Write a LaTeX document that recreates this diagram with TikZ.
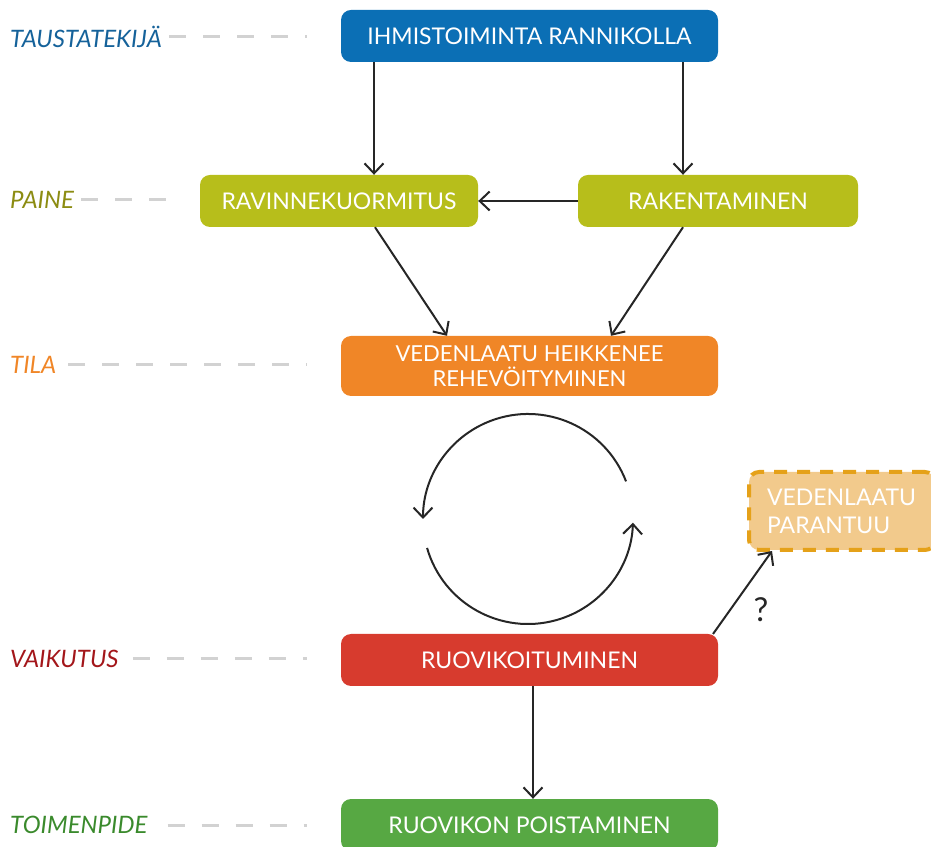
\documentclass[tikz,border=0pt]{standalone}
\usepackage{fontspec}
\setmainfont{Lato}
\usetikzlibrary{arrows.meta}
\definecolor{cblue}{HTML}{0B6FB5}
\definecolor{colive}{HTML}{B7BE1B}
\definecolor{corange}{HTML}{F08627}
\definecolor{cred}{HTML}{D73B2E}
\definecolor{cgreen}{HTML}{57A843}
\definecolor{cpalefill}{HTML}{F2CA8C}
\definecolor{cpaleline}{HTML}{E5A119}
\definecolor{lblue}{HTML}{15629A}
\definecolor{lolive}{HTML}{8C8C12}
\definecolor{lorange}{HTML}{F08627}
\definecolor{lred}{HTML}{A3161A}
\definecolor{lgreen}{HTML}{3A8A2C}
\definecolor{dashgray}{HTML}{D2D2D2}
\tikzset{
  box/.style={rounded corners=10pt, minimum height=52pt, text=white, inner sep=0pt,
    font=\fontsize{23}{27}\selectfont, align=center},
  lvl/.style={anchor=west, inner sep=0pt, font=\fontsize{24}{28}\selectfont\itshape},
  guide/.style={draw=dashgray, line width=3pt, dash pattern=on 17pt off 17pt},
  arr/.style={draw=black!85, line width=2pt, -{Straight Barb[length=10pt,width=19pt,line width=2pt]}},
}
\begin{document}
\begin{tikzpicture}[x=1pt,y=1pt]
\useasboundingbox (0,0) rectangle (931,846);
\begin{scope}
\clip (0,0) rectangle (931,846);
% boxes
\node[box, fill=cblue, minimum width=377pt] (ihm) at (529.5,810) {IHMISTOIMINTA RANNIKOLLA};
\node[box, fill=colive, minimum width=278pt] (rav) at (339,645) {RAVINNEKUORMITUS};
\node[box, fill=colive, minimum width=280pt] (rak) at (718,645) {RAKENTAMINEN};
\node[box, fill=corange, minimum width=377pt, minimum height=60pt, font=\fontsize{22}{25}\selectfont] (ved) at (529.5,480) {VEDENLAATU HEIKKENEE\\REHEVÖITYMINEN};
\node[box, fill=cred, minimum width=377pt] (ruo) at (529.5,186) {RUOVIKOITUMINEN};
\node[box, fill=cgreen, minimum width=377pt] (poi) at (529.5,21) {RUOVIKON POISTAMINEN};
\node[box, fill=cpalefill, draw=cpaleline, line width=4pt, dash pattern=on 13pt off 10pt,
  minimum width=186pt, minimum height=78pt, align=left, text width=150pt, inner xsep=18pt,
  font=\fontsize{23}{28}\selectfont] (par) at (842,335) {VEDENLAATU\\PARANTUU};
% level labels
\node[lvl, text=lblue] (l1) at (10,809) {TAUSTATEKIJÄ};
\node[lvl, text=lolive] (l2) at (10,646) {PAINE};
\node[lvl, text=lorange] (l3) at (10,481) {TILA};
\node[lvl, text=lred] (l4) at (10,187) {VAIKUTUS};
\node[lvl, text=lgreen] (l5) at (10,21) {TOIMENPIDE};
\coordinate (g1) at (307,809);
\coordinate (g2) at (180,646);
\coordinate (g3) at (307,481);
\coordinate (g4) at (307,187);
\coordinate (g5) at (307,21);
\draw[guide] ([xshift=7pt]l1.east) -- (g1);
\draw[guide] ([xshift=7pt]l2.east) -- (g2);
\draw[guide] ([xshift=12pt]l3.east) -- (g3);
\draw[guide] ([xshift=14pt]l4.east) -- (g4);
\draw[guide] ([xshift=20pt]l5.east) -- (g5);
% arrows
\draw[arr] (ihm.south -| 374,0) -- (rav.north -| 374,0);
\draw[arr] (ihm.south -| 683,0) -- (rak.north -| 683,0);
\draw[arr] (rak.west) -- (rav.east);
\draw[arr] (rav.south -| 375,0) -- (ved.north -| 447,0);
\draw[arr] (rak.south -| 683,0) -- (ved.north -| 611,0);
\draw[arr] (ruo.south -| 533,0) -- (poi.north -| 533,0);
\coordinate (pa) at (713,212);
\coordinate (pb) at (772,295);
\draw[arr] (pa) -- (pb);
\node[font=\fontsize{33}{36}\selectfont, text=black!85] (q) at (761,236) {?};
% cycle
\coordinate (cc) at (528,327);
\draw[arr] ([shift={(21:105pt)}]cc) arc[start angle=21, end angle=180, radius=105pt];
\draw[arr] ([shift={(196:105pt)}]cc) arc[start angle=196, end angle=358, radius=105pt];
\end{scope}
\end{tikzpicture}
\end{document}
